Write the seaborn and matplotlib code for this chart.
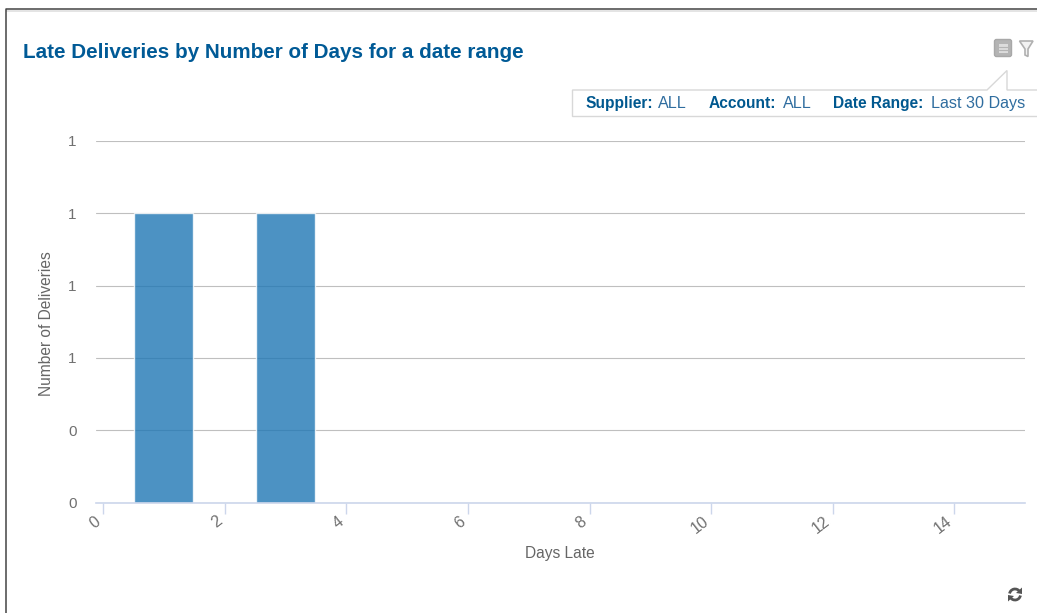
import matplotlib
matplotlib.use("Agg")
import matplotlib.pyplot as plt
import seaborn as sns
from matplotlib.patches import Arc, FancyBboxPatch, Polygon, Rectangle

days_late = [1, 3]
deliveries = [1, 1]
x_ticks = [0, 2, 4, 6, 8, 10, 12, 14]
y_ticks = [0, 0.25, 0.5, 0.75, 1, 1.25]
y_tick_labels = ["0", "0", "1", "1", "1", "1"]

W, H = 1037, 613

sns.set_theme(style="white")
plt.rcParams["font.family"] = ["Liberation Sans", "DejaVu Sans"]

fig = plt.figure(figsize=(W / 100, H / 100), dpi=100)
ax = fig.add_axes([96 / W, 1 - 502.5 / H, (1025 - 96) / W, (502.5 - 141) / H])

# overlay in pixel coords for the panel frame, title and icons
ov = fig.add_axes([0, 0, 1, 1], zorder=5)
ov.set_xlim(0, W)
ov.set_ylim(H, 0)
ov.axis("off")
ov.patch.set_alpha(0)

ax.yaxis.grid(True, color="#bfbfbf", linewidth=0.8)
ax.set_axisbelow(True)
sns.barplot(x=days_late, y=deliveries, native_scale=True, width=0.485,
            color="#1f77b4", alpha=0.8, saturation=1, ax=ax)
for bar in ax.patches:
    bar.set_zorder(3)

ax.set_xlim(-0.115, 15.16)
ax.set_ylim(0, 1.25)
ax.set_xticks(x_ticks)
ax.set_xticklabels(x_ticks, rotation=38, ha="right", va="top")
ax.set_yticks(y_ticks)
ax.set_yticklabels(y_tick_labels)
ax.tick_params(axis="x", length=8, width=1, color="#ccd6eb", pad=0,
               labelsize=11.5, labelcolor="#707070", bottom=True)
ax.tick_params(axis="y", length=0, pad=14, labelsize=11, labelcolor="#707070")

sns.despine(ax=ax, left=True)
ax.spines["bottom"].set_color("#ccd6eb")
ax.spines["bottom"].set_linewidth(1.2)
ax.spines["bottom"].set_zorder(4)

ax.set_xlabel("Days Late", fontsize=11.2, color="#666666")
ax.set_ylabel("Number of Deliveries", fontsize=11.2, color="#666666")
ax.xaxis.set_label_coords(560, 546, transform=ov.transData)
ax.yaxis.set_label_coords(54, 324, transform=ov.transData)

# panel frame
ov.plot([5.5, 5.5, W], [H, 9, 9], color="#444444", lw=1.1, solid_capstyle="butt")
ov.add_patch(Rectangle((6, 9.5), W - 6, 2.5, color="#e4e4e4", lw=0))

ov.text(23, 52.5, "Late Deliveries by Number of Days for a date range",
        fontsize=14.85, fontweight="bold", color="#005a96", va="center")

# filter summary callout
ov.add_patch(Polygon([(572.5, 90), (987, 90), (1007, 70.5), (1007, 90), (W + 5, 90),
                      (W + 5, 116.5), (572.5, 116.5)],
                     closed=True, fc="white", ec="#d8d8d8", lw=1))
label_color = "#00588f"
value_color = "#2f6d9f"
for x, label, xv, value in [(586, "Supplier:", 658, "ALL"),
                            (709, "Account:", 783, "ALL"),
                            (833, "Date Range:", 931, "Last 30 Days")]:
    ov.text(x, 103.5, label, fontsize=11.2, fontweight="bold", color=label_color, va="center")
    ov.text(xv, 103.5, value, fontsize=11.6, color=value_color, va="center")

# table icon
ov.add_patch(FancyBboxPatch((994.5, 39.5), 17, 17, boxstyle="round,pad=0,rounding_size=2",
                            fc="#b4b4b4", ec="#a8a8a8", lw=1))
ov.add_patch(Rectangle((998.5, 43.5), 9, 9, fc="#dcdcdc", lw=0))
for y in (46.5, 49.5):
    ov.plot([998.5, 1007.5], [y, y], color="#b4b4b4", lw=0.8)

# filter icon
ov.add_patch(Polygon([(1019.5, 41), (1033, 41), (1028, 49), (1028, 56.5), (1025, 55), (1025, 49)],
                     closed=True, fc="#f2f2f2", ec="#b0b0b0", lw=1.2))

# refresh icon
ov.add_patch(Arc((1015, 594.5), 11, 11, theta1=190, theta2=325, color="#555555", lw=2))
ov.add_patch(Arc((1015, 594.5), 11, 11, theta1=10, theta2=145, color="#555555", lw=2))
ov.add_patch(Polygon([(1022, 587.5), (1022, 594), (1016, 593)], closed=True, fc="#555555", lw=0))
ov.add_patch(Polygon([(1008, 601.5), (1008, 595), (1014, 596)], closed=True, fc="#555555", lw=0))

fig.savefig("out.png", dpi=100)
